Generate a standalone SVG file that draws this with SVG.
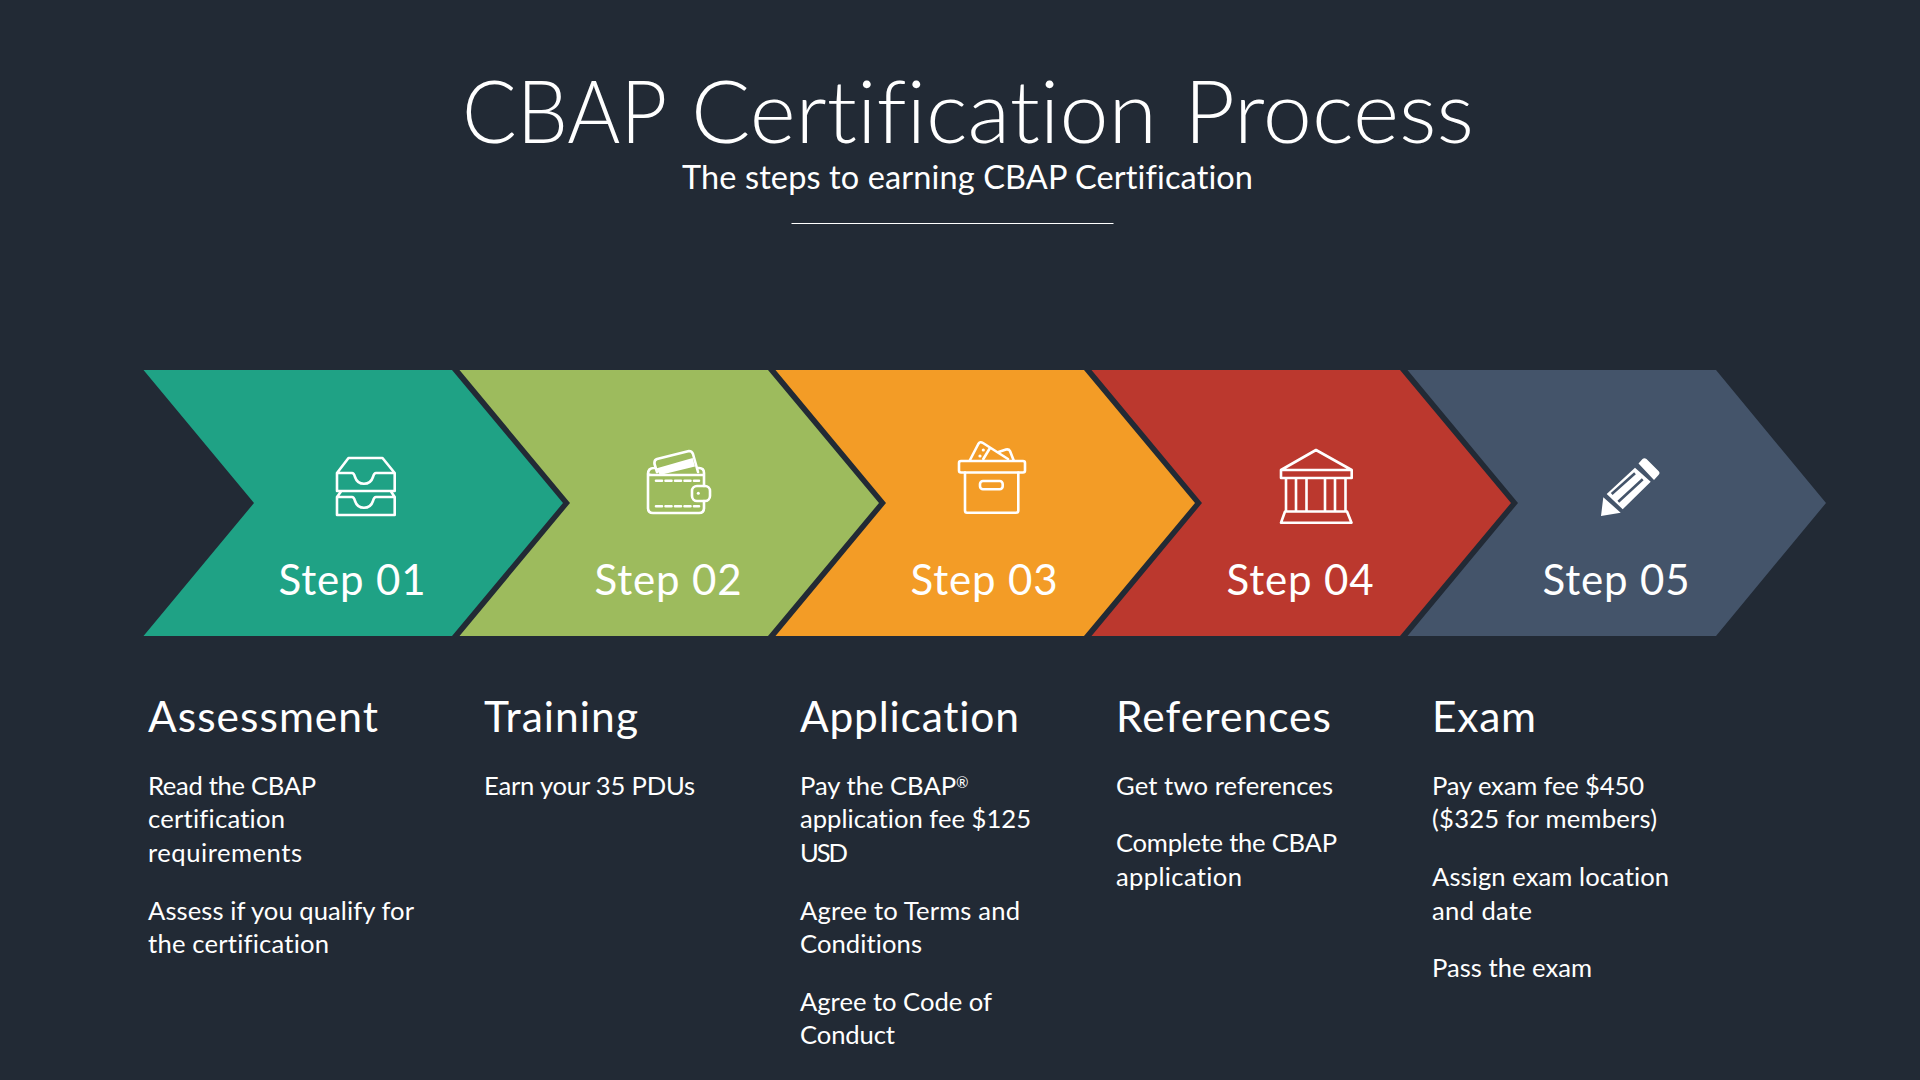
<svg xmlns="http://www.w3.org/2000/svg" width="1920" height="1080" viewBox="0 0 1920 1080">
<style>
text{font-family:"Lato","Noto Sans",sans-serif;fill:#fff;font-variant-ligatures:none}
.title{font-size:86px;font-weight:300}
.sub{font-size:32.5px}
.step{font-size:42px;text-anchor:middle}
.head{font-size:42.5px}
.body{font-size:25.6px}
.ic{fill:none;stroke:#fff;stroke-width:2.6;stroke-linejoin:round;stroke-linecap:round}
</style>
<rect width="1920" height="1080" fill="#222a35"/>
<g id="title">
<text class="title" y="143"><tspan x="462" textLength="203" lengthAdjust="spacingAndGlyphs">CBAP</tspan> <tspan x="691" textLength="466" lengthAdjust="spacingAndGlyphs">Certification</tspan> <tspan x="1184" textLength="290" lengthAdjust="spacingAndGlyphs">Process</tspan></text>
<text class="sub" x="682" y="189" textLength="571">The steps to earning CBAP Certification</text>
<line x1="791.500" y1="223.500" x2="1113.500" y2="223.500" stroke="#fff" stroke-width="1"/>
</g>
<g id="step1">
<polygon points="143.500,370 452,370 563,503 452,636 143.500,636 254,503" fill="#1fa285"/>
<path class="ic" d="M337 473L348.500 458H382.500L394.700 473V491H337ZM337 473H352Q354 473 355 477C358 486 370 486 373 477Q374 473 376 473H394.700M341 491.500L337 497V515H394.700V497L391 491.500M337 497H352Q354 497 355 501C358 510 370 510 373 501Q374 497 376 497H394.700"/>
<text class="step" x="352" y="595" textLength="147">Step 01</text>
</g>
<g id="step2">
<polygon points="459.500,370 768,370 879,503 768,636 459.500,636 570,503" fill="#9dbb5d"/>
<path class="ic" d="M648 474V508Q648 513 653 513H699Q704 513 704 508V501M704 486V473Q704 468 699 468H697M648 474Q648 468 654 468M648 474Q649 475 652 475H704M657 472L654.500 464Q654 460 657 459L689 451Q692 451 693 454L698 472"/>
<path d="M656 468.500L692.700 458L695 466.500L660 475Z" fill="#fff"/>
<rect class="ic" x="692" y="486" width="18" height="15" rx="5"/>
<path class="ic" stroke-dasharray="6 3.500" stroke-linecap="butt" d="M656 480.700H699M656 506.300H699"/>
<circle cx="698.300" cy="493.300" r="1.500" fill="#fff"/>
<text class="step" x="668" y="595" textLength="147">Step 02</text>
</g>
<g id="step3">
<polygon points="775.500,370 1084,370 1195,503 1084,636 775.500,636 886,503" fill="#f39c26"/>
<rect class="ic" x="959" y="461" width="66" height="11.500" rx="2"/>
<path class="ic" d="M965 472.500V510.500Q965 512.700 967 512.700H1016Q1018.300 512.700 1018.300 510.500V472.500M970 460L978.300 444Q980 441 983 443L990 447.500L1008 459M983.300 459L990 448M998.500 452L1006 449.500Q1009 449 1010 451L1013.500 460"/>
<rect class="ic" x="980" y="481" width="22.700" height="8.300" rx="3"/>
<circle cx="983.300" cy="450" r="1.600" fill="#fff"/>
<circle cx="980" cy="456" r="1.600" fill="#fff"/>
<text class="step" x="984" y="595" textLength="147">Step 03</text>
</g>
<g id="step4">
<polygon points="1091.500,370 1400,370 1511,503 1400,636 1091.500,636 1202,503" fill="#bb382e"/>
<path class="ic" d="M1281 470L1316 450L1351.700 470V478H1281ZM1281 470H1351.700M1286 478V511.500M1296 478V511.500M1306.500 478V511.500M1325 478V511.500M1335 478V511.500M1345.500 478V511.500M1285 511.500H1347L1351.500 522.700H1281Z"/>
<text class="step" x="1300" y="595" textLength="147">Step 04</text>
</g>
<g id="step5">
<polygon points="1407.500,370 1716,370 1826,503 1716,636 1407.500,636 1518,503" fill="#44546a"/>
<path d="M1601 516L1603.300 497.300L1620.700 512.700Z M1606.700 494L1635 467.700L1650.700 481.700L1622.700 509.300Z" fill="#fff"/>
<path d="M1638.500 463.500L1642.500 459Q1644.300 457.300 1646.500 459L1658.500 471Q1660.500 473 1658.500 475L1654 480Z" fill="#fff"/>
<path d="M1611.700 494L1635 473.300M1618.300 501.700L1642.700 479.300" stroke="#44546a" stroke-width="2.600" fill="none"/>
<text class="step" x="1616" y="595" textLength="147">Step 05</text>
</g>
<g id="col1">
<text class="head" x="148" y="731.500" textLength="230">Assessment</text>
<text class="body" x="148" y="795" textLength="168">Read the CBAP</text>
<text class="body" x="148" y="828" textLength="137">certification</text>
<text class="body" x="148" y="862" textLength="154">requirements</text>
<text class="body" x="148" y="920" textLength="266">Assess if you qualify for</text>
<text class="body" x="148" y="953" textLength="181">the certification</text>
</g>
<g id="col2">
<text class="head" x="484" y="731.500" textLength="154">Training</text>
<text class="body" x="484" y="795" textLength="211">Earn your 35 PDUs</text>
</g>
<g id="col3">
<text class="head" x="800" y="731.500" textLength="219">Application</text>
<text class="body" x="800" y="795">Pay the CBAP<tspan font-size="15" dy="-7">®</tspan></text>
<text class="body" x="800" y="828" textLength="231">application fee $125</text>
<text class="body" x="800" y="862" textLength="48">USD</text>
<text class="body" x="800" y="920" textLength="220">Agree to Terms and</text>
<text class="body" x="800" y="953" textLength="122">Conditions</text>
<text class="body" x="800" y="1011" textLength="192">Agree to Code of</text>
<text class="body" x="800" y="1044" textLength="95">Conduct</text>
</g>
<g id="col4">
<text class="head" x="1116" y="731.500" textLength="215">References</text>
<text class="body" x="1116" y="795" textLength="217">Get two references</text>
<text class="body" x="1116" y="852" textLength="221">Complete the CBAP</text>
<text class="body" x="1116" y="886" textLength="126">application</text>
</g>
<g id="col5">
<text class="head" x="1432" y="731.500" textLength="104">Exam</text>
<text class="body" x="1432" y="795" textLength="212">Pay exam fee $450</text>
<text class="body" x="1432" y="828" textLength="225">($325 for members)</text>
<text class="body" x="1432" y="886" textLength="237">Assign exam location</text>
<text class="body" x="1432" y="919.500" textLength="100">and date</text>
<text class="body" x="1432" y="977" textLength="160">Pass the exam</text>
</g>
</svg>
